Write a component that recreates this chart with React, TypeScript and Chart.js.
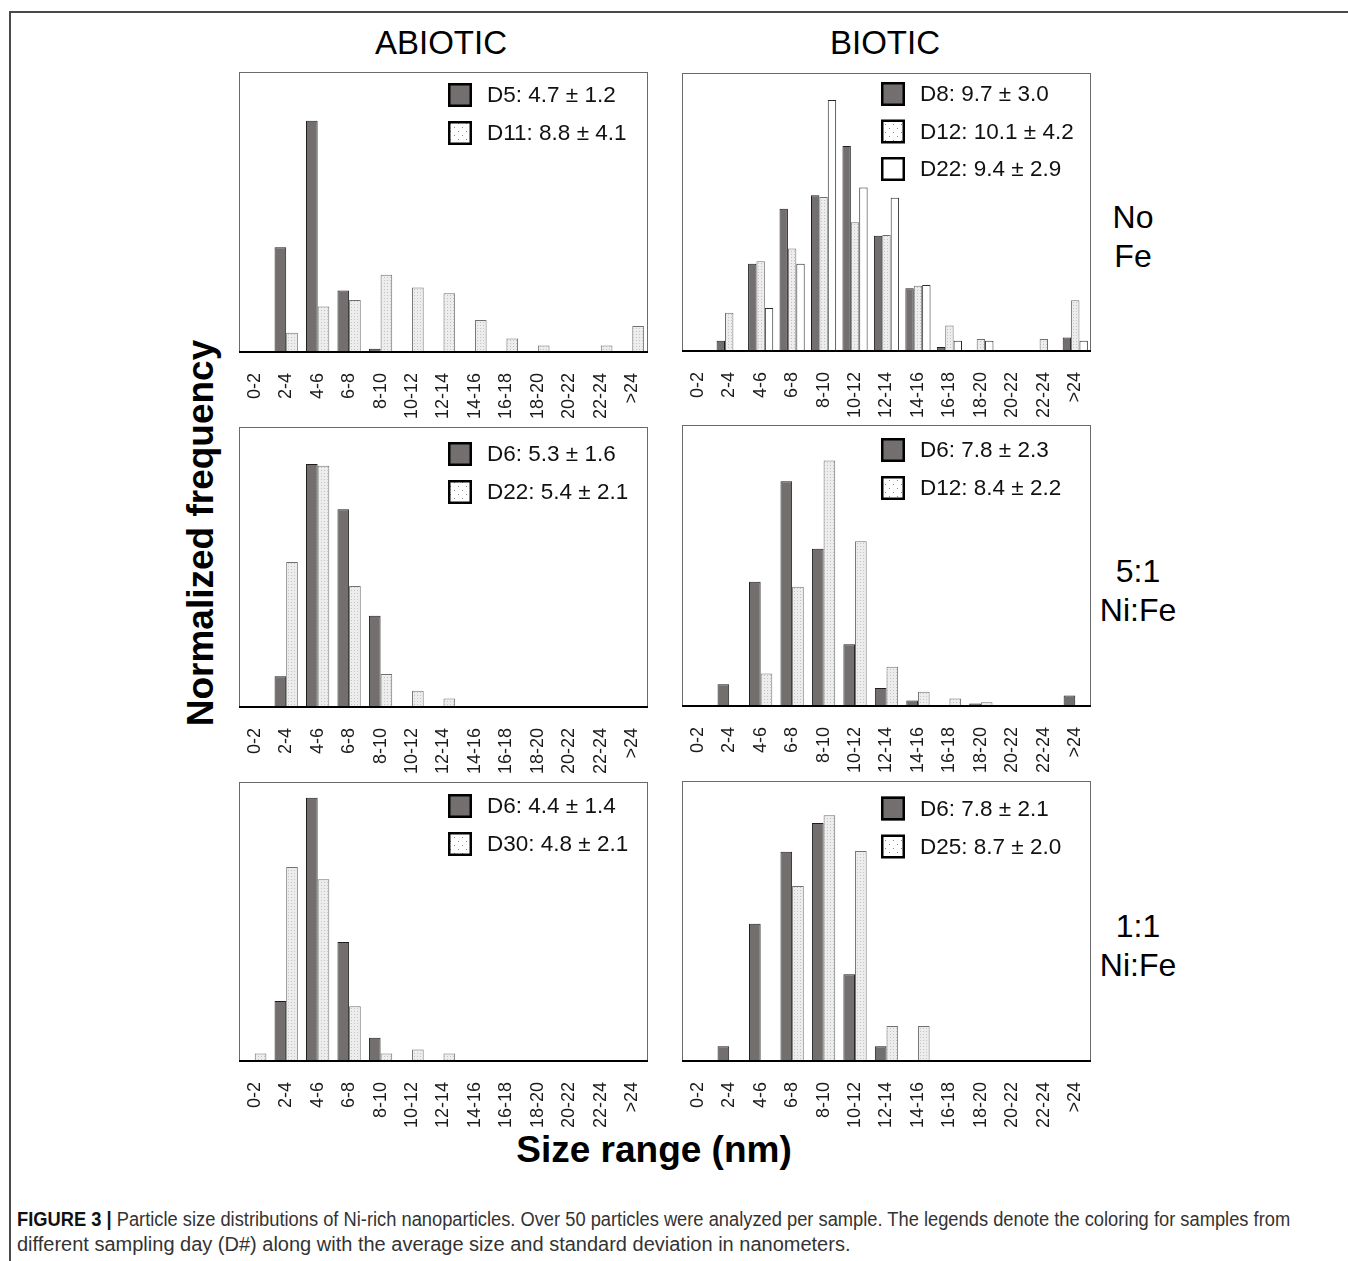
import React, { useEffect, useRef } from 'react';
import { Chart, registerables } from 'chart.js';
Chart.register(...registerables);

// ---------- data ----------
const SIZE_BINS = ['0-2', '2-4', '4-6', '6-8', '8-10', '10-12', '12-14', '14-16', '16-18', '18-20', '20-22', '22-24', '>24'];

// ABIOTIC, No Fe
const ABIOTIC_NOFE_D5 = [0, 0.262, 0.578, 0.154, 0.008, 0, 0, 0, 0, 0, 0, 0, 0];
const ABIOTIC_NOFE_D11 = [0, 0.048, 0.114, 0.130, 0.193, 0.161, 0.147, 0.080, 0.034, 0.016, 0, 0.016, 0.065];
// BIOTIC, No Fe
const BIOTIC_NOFE_D8 = [0, 0.013, 0.110, 0.179, 0.196, 0.258, 0.145, 0.079, 0.005, 0, 0, 0, 0.017];
const BIOTIC_NOFE_D12 = [0, 0.048, 0.113, 0.129, 0.194, 0.162, 0.146, 0.082, 0.032, 0.015, 0, 0.015, 0.064];
const BIOTIC_NOFE_D22 = [0, 0, 0.054, 0.110, 0.316, 0.206, 0.193, 0.083, 0.013, 0.013, 0, 0, 0.013];
// ABIOTIC, 5:1 Ni:Fe
const ABIOTIC_51_D6 = [0, 0.055, 0.434, 0.353, 0.163, 0, 0, 0, 0, 0, 0, 0, 0];
const ABIOTIC_51_D22 = [0, 0.259, 0.431, 0.216, 0.059, 0.029, 0.015, 0, 0, 0, 0, 0, 0];
// BIOTIC, 5:1 Ni:Fe
const BIOTIC_51_D6 = [0, 0.035, 0.199, 0.360, 0.252, 0.099, 0.029, 0.009, 0, 0.004, 0, 0, 0.017];
const BIOTIC_51_D12 = [0, 0, 0.052, 0.191, 0.393, 0.264, 0.063, 0.023, 0.012, 0.006, 0, 0, 0];
// ABIOTIC, 1:1 Ni:Fe
const ABIOTIC_11_D6 = [0, 0.129, 0.566, 0.256, 0.050, 0, 0, 0, 0, 0, 0, 0, 0];
const ABIOTIC_11_D30 = [0.016, 0.417, 0.391, 0.118, 0.016, 0.025, 0.016, 0, 0, 0, 0, 0, 0];
// BIOTIC, 1:1 Ni:Fe
const BIOTIC_11_D6 = [0, 0.021, 0.196, 0.299, 0.340, 0.124, 0.021, 0, 0, 0, 0, 0, 0];
const BIOTIC_11_D25 = [0, 0, 0, 0.250, 0.351, 0.300, 0.050, 0.050, 0, 0, 0, 0, 0];

const Y_MAX = [0.7, 0.35, 0.5, 0.45, 0.6, 0.4];

const COLUMN_TITLES = ['ABIOTIC', 'BIOTIC'];
const ROW_TITLES = [['No', 'Fe'], ['5:1', 'Ni:Fe'], ['1:1', 'Ni:Fe']];
const Y_TITLE = 'Normalized frequency';
const X_TITLE = 'Size range (nm)';
const CAPTION_LEAD = 'FIGURE 3 |';
const CAPTION_LINE1 = 'Particle size distributions of Ni-rich nanoparticles. Over 50 particles were analyzed per sample. The legends denote the coloring for samples from';
const CAPTION_LINE2 = 'different sampling day (D#) along with the average size and standard deviation in nanometers.';

// ---------- layout ----------
const FONT = '"Liberation Sans", Arial, Helvetica, sans-serif';
const PADX = 30;
const PADT = 6;
const XAXIS_H = 78;

type Style = 'dark' | 'dots' | 'white';
interface Series { label: string; data: number[]; style: Style }
interface PanelCfg { x: number; y: number; w: number; h: number; yMax: number; series: Series[]; lx: number; ly: number; lgap: number }

const PANELS: PanelCfg[] = [
  { x: 239, y: 72, w: 409, h: 280, yMax: Y_MAX[0], lx: 209, ly: 11, lgap: 38,
    series: [
      { label: 'D5: 4.7 ± 1.2', data: ABIOTIC_NOFE_D5, style: 'dark' },
      { label: 'D11: 8.8 ± 4.1', data: ABIOTIC_NOFE_D11, style: 'dots' },
    ] },
  { x: 682, y: 73, w: 409, h: 278, yMax: Y_MAX[1], lx: 199, ly: 9, lgap: 37.5,
    series: [
      { label: 'D8: 9.7 ± 3.0', data: BIOTIC_NOFE_D8, style: 'dark' },
      { label: 'D12: 10.1 ± 4.2', data: BIOTIC_NOFE_D12, style: 'dots' },
      { label: 'D22: 9.4 ± 2.9', data: BIOTIC_NOFE_D22, style: 'white' },
    ] },
  { x: 239, y: 427, w: 409, h: 280, yMax: Y_MAX[2], lx: 209, ly: 15, lgap: 38,
    series: [
      { label: 'D6: 5.3 ± 1.6', data: ABIOTIC_51_D6, style: 'dark' },
      { label: 'D22: 5.4 ± 2.1', data: ABIOTIC_51_D22, style: 'dots' },
    ] },
  { x: 682, y: 425, w: 409, h: 281, yMax: Y_MAX[3], lx: 199, ly: 13, lgap: 38,
    series: [
      { label: 'D6: 7.8 ± 2.3', data: BIOTIC_51_D6, style: 'dark' },
      { label: 'D12: 8.4 ± 2.2', data: BIOTIC_51_D12, style: 'dots' },
    ] },
  { x: 239, y: 782, w: 409, h: 279, yMax: Y_MAX[4], lx: 209, ly: 12, lgap: 38,
    series: [
      { label: 'D6: 4.4 ± 1.4', data: ABIOTIC_11_D6, style: 'dark' },
      { label: 'D30: 4.8 ± 2.1', data: ABIOTIC_11_D30, style: 'dots' },
    ] },
  { x: 682, y: 781, w: 409, h: 280, yMax: Y_MAX[5], lx: 199, ly: 15.5, lgap: 38,
    series: [
      { label: 'D6: 7.8 ± 2.1', data: BIOTIC_11_D6, style: 'dark' },
      { label: 'D25: 8.7 ± 2.0', data: BIOTIC_11_D25, style: 'dots' },
    ] },
];

function makePattern(ctx: CanvasRenderingContext2D, size: number, bg: string, dot: string): CanvasPattern | string {
  const c = document.createElement('canvas');
  c.width = size; c.height = size;
  const g = c.getContext('2d');
  if (!g) return bg;
  g.fillStyle = bg; g.fillRect(0, 0, size, size);
  g.fillStyle = dot;
  g.fillRect(1, 1, 1, 1);
  if (size >= 6) g.fillRect(Math.floor(size / 2) + 1, Math.floor(size / 2) + 1, 1, 1);
  return ctx.createPattern(c, 'repeat') || bg;
}

function Panel({ cfg }: { cfg: PanelCfg }) {
  const ref = useRef<HTMLCanvasElement | null>(null);
  useEffect(() => {
    const canvas = ref.current;
    if (!canvas) return;
    const ctx = canvas.getContext('2d');
    if (!ctx) return;
    const barDots = makePattern(ctx, 3, '#ededed', '#c4c4c4');
    const legDots = makePattern(ctx, 8, '#ffffff', '#8a8a8a');
    const fillFor = (s: Style, legend: boolean) =>
      s === 'dark' ? '#736f6f' : s === 'white' ? '#ffffff' : legend ? legDots : barDots;
    const borderFor = (s: Style) => (s === 'dark' ? '#1e1e1e' : s === 'white' ? '#2a2a2a' : '#707070');
    const n = cfg.series.length;

    const framePlugin = {
      id: 'panelFrame',
      afterDatasetsDraw(chart: any) {
        const { left, right, top, bottom } = chart.chartArea;
        const c = chart.ctx as CanvasRenderingContext2D;
        c.save();
        c.strokeStyle = '#6a6a6a';
        c.lineWidth = 1;
        c.strokeRect(left + 0.5, top + 0.5, right - left - 1, bottom - top);
        c.strokeStyle = '#000000';
        c.lineWidth = 2;
        c.beginPath();
        c.moveTo(left, bottom);
        c.lineTo(right, bottom);
        c.stroke();
        c.restore();
      },
      afterDraw(chart: any) {
        const { left, top } = chart.chartArea;
        const c = chart.ctx as CanvasRenderingContext2D;
        c.save();
        cfg.series.forEach((s, i) => {
          const bx = left + cfg.lx;
          const by = top + cfg.ly + i * cfg.lgap;
          c.fillStyle = fillFor(s.style, true) as any;
          c.fillRect(bx, by, 24, 24);
          c.strokeStyle = '#000000';
          c.lineWidth = 2.5;
          c.strokeRect(bx + 1.25, by + 1.25, 21.5, 21.5);
          c.fillStyle = '#111111';
          c.font = `22.5px ${FONT}`;
          c.textAlign = 'left';
          c.textBaseline = 'middle';
          c.fillText(s.label, bx + 39, by + 13);
        });
        c.restore();
      },
    };

    const chart = new Chart(canvas, {
      type: 'bar',
      data: {
        labels: SIZE_BINS,
        datasets: cfg.series.map((s) => ({
          label: s.label,
          data: s.data,
          backgroundColor: fillFor(s.style, false) as any,
          borderColor: borderFor(s.style),
          borderWidth: 1,
          barPercentage: 1,
          categoryPercentage: n === 3 ? 0.8 : 0.74,
        })),
      },
      options: {
        responsive: false,
        animation: false,
        devicePixelRatio: 1,
        layout: { padding: { left: PADX, right: PADX, top: PADT, bottom: 0 } },
        plugins: { legend: { display: false }, tooltip: { enabled: false }, title: { display: false } },
        scales: {
          x: {
            grid: { display: false },
            border: { display: false },
            ticks: {
              autoSkip: false,
              minRotation: 90,
              maxRotation: 90,
              padding: 13,
              color: '#1a1a1a',
              font: { family: FONT, size: 18 },
            },
            afterFit(scale: any) { scale.height = XAXIS_H; },
          },
          y: { display: false, min: 0, max: cfg.yMax },
        },
      },
      plugins: [framePlugin],
    } as any);
    return () => chart.destroy();
  }, [cfg]);

  const W = cfg.w + 2 * PADX;
  const H = cfg.h + PADT + XAXIS_H;
  return (
    <canvas
      ref={ref}
      width={W}
      height={H}
      style={{ position: 'absolute', left: cfg.x - PADX, top: cfg.y - PADT, width: W, height: H }}
    />
  );
}

function CenterText({ cx, cy, text, size, bold, rotate }: { cx: number; cy: number; text: string; size: number; bold?: boolean; rotate?: boolean }) {
  const boxW = 600, boxH = 50;
  return (
    <div
      style={{
        position: 'absolute', left: cx - boxW / 2, top: cy - boxH / 2, width: boxW, height: boxH,
        lineHeight: `${boxH}px`, textAlign: 'center', fontFamily: FONT, fontSize: size,
        fontWeight: bold ? 'bold' : 'normal', color: '#000', whiteSpace: 'nowrap',
        transform: rotate ? 'rotate(-90deg)' : undefined,
      }}
    >
      {text}
    </div>
  );
}

export default function App() {
  return (
    <div style={{ position: 'absolute', left: 0, top: 0, width: 1348, height: 1261, overflow: 'hidden', background: '#fff' }}>
      <div style={{ position: 'absolute', left: 9, top: 11, width: 1400, height: 1400, border: '2px solid #4a4a4a', boxSizing: 'border-box' }} />
      <CenterText cx={441} cy={43} text={COLUMN_TITLES[0]} size={33} />
      <CenterText cx={885} cy={43} text={COLUMN_TITLES[1]} size={33} />
      <CenterText cx={1133} cy={217} text={ROW_TITLES[0][0]} size={32} />
      <CenterText cx={1133} cy={256} text={ROW_TITLES[0][1]} size={32} />
      <CenterText cx={1138} cy={571} text={ROW_TITLES[1][0]} size={32} />
      <CenterText cx={1138} cy={610} text={ROW_TITLES[1][1]} size={32} />
      <CenterText cx={1138} cy={926} text={ROW_TITLES[2][0]} size={32} />
      <CenterText cx={1138} cy={965} text={ROW_TITLES[2][1]} size={32} />
      <CenterText cx={201} cy={533} text={Y_TITLE} size={37} bold rotate />
      <CenterText cx={654} cy={1150} text={X_TITLE} size={37} bold />
      {PANELS.map((p, i) => <Panel key={i} cfg={p} />)}
      <div style={{ position: 'absolute', left: 17, top: 1207, fontFamily: FONT, fontSize: 20, lineHeight: '25px', color: '#333', whiteSpace: 'nowrap' }}>
        <div style={{ transform: 'scaleX(0.915)', transformOrigin: 'left center' }}>
          <b style={{ color: '#111' }}>{CAPTION_LEAD}</b> {CAPTION_LINE1}
        </div>
        <div>{CAPTION_LINE2}</div>
      </div>
    </div>
  );
}
